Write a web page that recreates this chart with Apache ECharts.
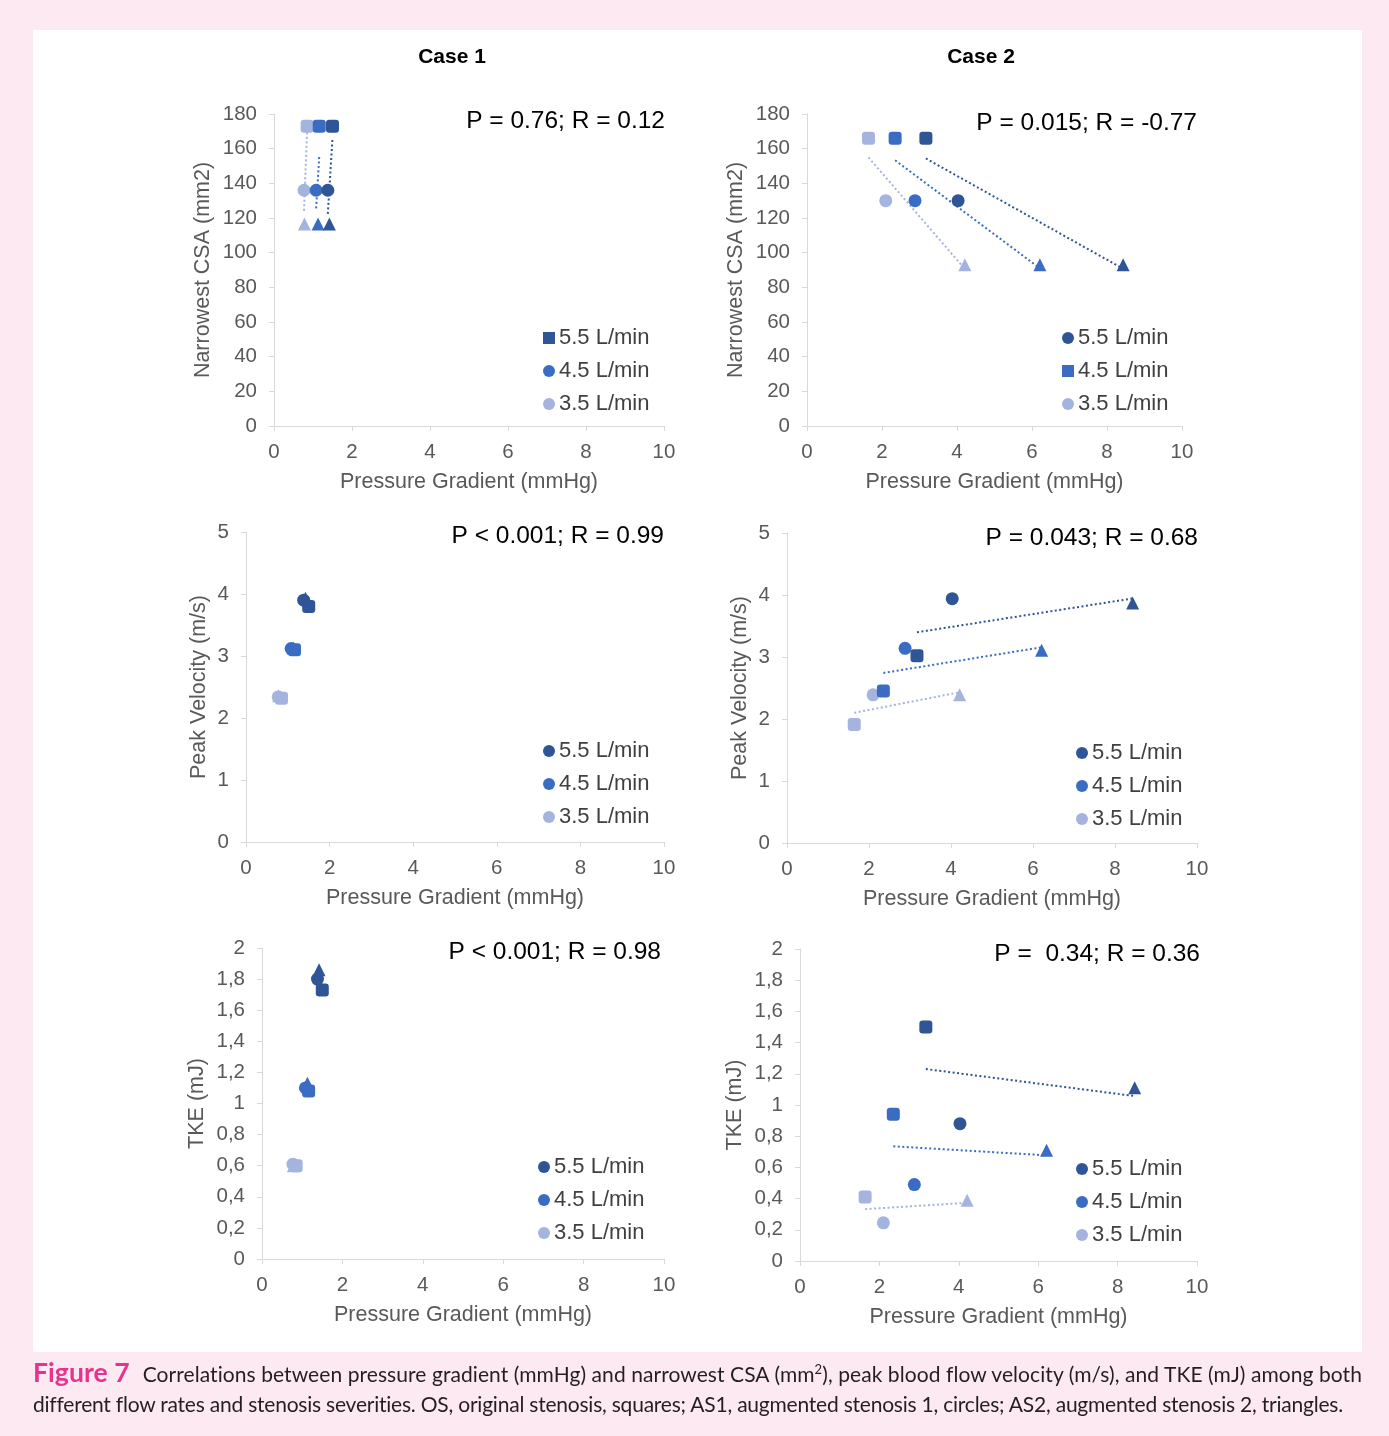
<!DOCTYPE html>
<html><head><meta charset="utf-8">
<script src="https://cdn.jsdelivr.net/npm/echarts@6/dist/echarts.min.js"></script>
<style>
html,body{margin:0;padding:0;background:#fce9f1;width:1389px;height:1436px;overflow:hidden;}
#panel{position:absolute;left:33px;top:30px;width:1329px;height:1322px;background:#fff;}
#chart{position:absolute;left:0;top:0;width:1389px;height:1436px;}
#caption{position:absolute;left:33px;top:1357px;font-family:Lato,'Open Sans',sans-serif;font-size:21px;line-height:30px;color:#231f20;white-space:nowrap;}
#caption b{color:#e6338c;font-weight:700;font-size:26.5px;margin-right:13px;}
#caption .l1{letter-spacing:0.07px;}
#caption .l2{letter-spacing:-0.22px;}
#caption sup{font-size:13px;line-height:0;vertical-align:8px;}
</style></head><body>
<div id="panel"></div>
<div id="chart"></div>
<div id="caption"><span class="l1"><b>Figure 7</b>Correlations between pressure gradient (mmHg) and narrowest CSA (mm<sup>2</sup>), peak blood flow velocity (m/s), and TKE (mJ) among both</span><br><span class="l2">different flow rates and stenosis severities. OS, original stenosis, squares; AS1, augmented stenosis 1, circles; AS2, augmented stenosis 2, triangles.</span></div>
<script>
// ---------- data ----------
const flowRates = ['5.5 L/min', '4.5 L/min', '3.5 L/min'];
// order of points inside every array: [OS (square), AS1 (circle), AS2 (triangle)]
const stenosisSymbols = ['roundRect', 'circle', 'triangle'];
const xTicks = [0, 2, 4, 6, 8, 10];
const csaTicks = [0, 20, 40, 60, 80, 100, 120, 140, 160, 180];
const velocityTicks = [0, 1, 2, 3, 4, 5];
const tkeTicks = [0, 0.2, 0.4, 0.6, 0.8, 1, 1.2, 1.4, 1.6, 1.8, 2];

// Case 1 pressure gradient (mmHg)
const case1Gradient55 = [1.50, 1.38, 1.42];
const case1Gradient45 = [1.16, 1.08, 1.13];
const case1Gradient35 = [0.85, 0.77, 0.78];
// Case 2 pressure gradient (mmHg)
const case2Gradient55 = [3.17, 4.03, 8.43];
const case2Gradient45 = [2.35, 2.88, 6.21];
const case2Gradient35 = [1.64, 2.10, 4.21];

// Narrowest CSA (mm2)
const case1CSA = [173, 136, 116.5];
const case2CSA = [166, 130, 93];

// Peak velocity (m/s)
const case1Velocity55 = [3.80, 3.90, 3.93];
const case1Velocity45 = [3.10, 3.12, 3.13];
const case1Velocity35 = [2.32, 2.34, 2.36];
const case2Velocity55 = [3.02, 3.94, 3.87];
const case2Velocity45 = [2.45, 3.14, 3.11];
const case2Velocity35 = [1.91, 2.39, 2.39];

// TKE (mJ)
const case1TKE55 = [1.73, 1.80, 1.86];
const case1TKE45 = [1.08, 1.10, 1.13];
const case1TKE35 = [0.60, 0.61, 0.60];
const case2TKE55 = [1.50, 0.88, 1.11];
const case2TKE45 = [0.94, 0.49, 0.71];
const case2TKE35 = [0.41, 0.245, 0.39];

const statTexts = ['P = 0.76; R = 0.12', 'P = 0.015; R = -0.77', 'P < 0.001; R = 0.99',
                   'P = 0.043; R = 0.68', 'P < 0.001; R = 0.98', 'P =  0.34; R = 0.36'];

// ---------- styles / layout ----------
const flowColors = ['#2F5597', '#3B6CC4', '#A4B4DE'];
const FONT = '"Liberation Sans", Arial, Helvetica, sans-serif';
const axisGray = '#d9d9d9';
const labelGray = '#595959';

const panels = [
  {grid:{left:274, top:114, width:390, height:312}, xs:[case1Gradient55,case1Gradient45,case1Gradient35], ys:[case1CSA,case1CSA,case1CSA],
   ticks:csaTicks, yName:'Narrowest CSA (mm2)', yGap:60, stat:[665,121], legend:[543,327], icons:['rect','circle','circle']},
  {grid:{left:807, top:114, width:375, height:312}, xs:[case2Gradient55,case2Gradient45,case2Gradient35], ys:[case2CSA,case2CSA,case2CSA],
   ticks:csaTicks, yName:'Narrowest CSA (mm2)', yGap:60, stat:[1197,123], legend:[1062,327], icons:['circle','rect','circle']},
  {grid:{left:246, top:532, width:418, height:310}, xs:[case1Gradient55,case1Gradient45,case1Gradient35], ys:[case1Velocity55,case1Velocity45,case1Velocity35],
   ticks:velocityTicks, yName:'Peak Velocity (m/s)', yGap:36, stat:[664,536], legend:[543,740], icons:['circle','circle','circle']},
  {grid:{left:787, top:533, width:410, height:310}, xs:[case2Gradient55,case2Gradient45,case2Gradient35], ys:[case2Velocity55,case2Velocity45,case2Velocity35],
   ticks:velocityTicks, yName:'Peak Velocity (m/s)', yGap:36, stat:[1198,538], legend:[1076,742], icons:['circle','circle','circle']},
  {grid:{left:262, top:948, width:402, height:311}, xs:[case1Gradient55,case1Gradient45,case1Gradient35], ys:[case1TKE55,case1TKE45,case1TKE35],
   ticks:tkeTicks, yName:'TKE (mJ)', yGap:54, stat:[661,952], legend:[538,1156], icons:['circle','circle','circle'], comma:true},
  {grid:{left:800, top:949, width:397, height:312}, xs:[case2Gradient55,case2Gradient45,case2Gradient35], ys:[case2TKE55,case2TKE45,case2TKE35],
   ticks:tkeTicks, yName:'TKE (mJ)', yGap:54, stat:[1200,954], legend:[1076,1158], icons:['circle','circle','circle'], comma:true}
];

function trend(xs, ys) {
  const n = xs.length;
  const mx = xs.reduce((a,b)=>a+b,0)/n, my = ys.reduce((a,b)=>a+b,0)/n;
  let sxy = 0, sxx = 0;
  for (let i=0;i<n;i++){ sxy += (xs[i]-mx)*(ys[i]-my); sxx += (xs[i]-mx)*(xs[i]-mx); }
  const b = sxy/sxx, a = my - b*mx;
  const x0 = Math.min(...xs), x1 = Math.max(...xs);
  return [[x0, a+b*x0], [x1, a+b*x1]];
}

const grids = [], xAxes = [], yAxes = [], series = [], legends = [], graphics = [];
panels.forEach((p, k) => {
  grids.push(Object.assign({containLabel:false}, p.grid));
  xAxes.push({
    type:'value', gridIndex:k, min:xTicks[0], max:xTicks[xTicks.length-1], interval:xTicks[1]-xTicks[0],
    name:'Pressure Gradient (mmHg)', nameLocation:'middle', nameGap:45,
    nameTextStyle:{fontFamily:FONT, fontSize:21.5, color:labelGray},
    axisLine:{show:true, onZero:false, lineStyle:{color:axisGray, width:1}},
    axisTick:{show:true, length:5, lineStyle:{color:axisGray}},
    axisLabel:{fontFamily:FONT, fontSize:20.5, color:labelGray, margin:16},
    splitLine:{show:false}
  });
  const step = p.ticks[1]-p.ticks[0];
  yAxes.push({
    type:'value', gridIndex:k, min:p.ticks[0], max:p.ticks[p.ticks.length-1], interval:step,
    name:p.yName, nameLocation:'middle', nameGap:p.yGap,
    nameTextStyle:{fontFamily:FONT, fontSize:21.5, color:labelGray},
    axisLine:{show:true, lineStyle:{color:axisGray, width:1}},
    axisTick:{show:true, length:5, lineStyle:{color:axisGray}},
    axisLabel:{fontFamily:FONT, fontSize:20.5, color:labelGray, margin:17,
      formatter: v => { const r = Math.round(v*10)/10; return p.comma ? String(r).replace('.', ',') : String(r); }},
    splitLine:{show:false}
  });
  for (let f=0; f<3; f++) {
    const xs = p.xs[f], ys = p.ys[f];
    series.push({
      type:'line', name:'trend'+k+'_'+f, xAxisIndex:k, yAxisIndex:k, data:trend(xs, ys),
      symbol:'none', silent:true, z:1,
      lineStyle:{color:flowColors[f], width:2, type:[2,2.5]}
    });
  }
  for (let f=2; f>=0; f--) {
    const xs = p.xs[f], ys = p.ys[f];
    series.push({
      type:'scatter', name:flowRates[f], xAxisIndex:k, yAxisIndex:k, z:3,
      data: xs.map((x,i)=>({value:[x, ys[i]], symbol:stenosisSymbols[i]})),
      symbolSize:13, itemStyle:{color:flowColors[f], opacity:1}
    });
  }
  legends.push({
    orient:'vertical', left:p.legend[0], top:p.legend[1], itemWidth:12, itemHeight:12, itemGap:11,
    selectedMode:false, padding:0,
    textStyle:{fontFamily:FONT, fontSize:22, color:'#404040', padding:[0,0,0,-1]},
    data: flowRates.map((n,i)=>({name:n, icon:p.icons[i], itemStyle:{color:flowColors[i]}}))
  });
  graphics.push({type:'text', x:p.stat[0], y:p.stat[1], silent:true,
    style:{text:statTexts[k], font:'24.5px ' + FONT, fill:'#000', align:'right', verticalAlign:'middle'}});
});
graphics.push({type:'text', x:452, y:57, style:{text:'Case 1', font:'bold 21px ' + FONT, fill:'#000', align:'center', verticalAlign:'middle'}});
graphics.push({type:'text', x:981, y:57, style:{text:'Case 2', font:'bold 21px ' + FONT, fill:'#000', align:'center', verticalAlign:'middle'}});

const chart = echarts.init(document.getElementById('chart'), null, {renderer:'canvas'});
chart.setOption({
  animation:false,
  backgroundColor:'transparent',
  grid:grids, xAxis:xAxes, yAxis:yAxes, series:series, legend:legends, graphic:graphics
});
</script></body></html>
